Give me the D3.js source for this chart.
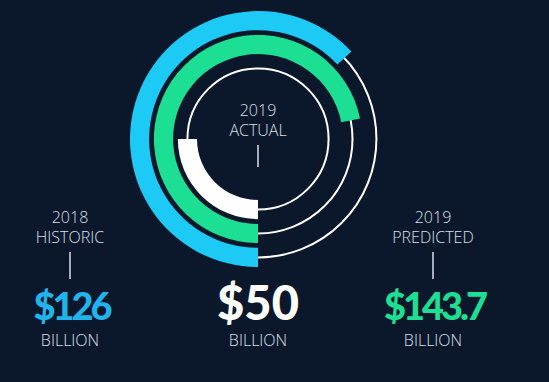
<!DOCTYPE html>
<html>
<head>
<meta charset="utf-8">
<script src="https://cdn.jsdelivr.net/npm/d3@7"></script>
<style>
  body { margin:0; background:#0b172a; }
  svg { display:block; }
  .light { font-family:"Open Sans", sans-serif; font-weight:300; fill:#d8e0ea; }
  .big { font-family:"Lato", sans-serif; font-weight:900; }
</style>
</head>
<body>
<script>
// values in billions
var labels = ["2018 HISTORIC", "2019 ACTUAL", "2019 PREDICTED"];
var values = [126, 50, 143.7];
var amounts = ["$126", "$50", "$143.7"];
var colors = ["#1dc9f5", "#ffffff", "#1ddf93"];
var textColors = ["#21b4ea", "#ffffff", "#1ddf93"];
// ring order from outside in: historic, predicted, actual
var ringOrder = [0, 2, 1];

var width = 549, height = 382;
var cx = 258, cy = 139;

var svg = d3.select("body").append("svg")
  .attr("width", width)
  .attr("height", height);

svg.append("rect").attr("width", width).attr("height", height).attr("fill", "#0b172a");

// full turn = 200 billion, starting from 6 o'clock going clockwise
var angle = d3.scaleLinear().domain([0, 200]).range([Math.PI, 3 * Math.PI]);
var ring = d3.scaleBand().domain(ringOrder).range([128, 61]).paddingInner(0.2);
var bw = ring.bandwidth();

var g = svg.append("g").attr("transform", "translate(" + cx + "," + cy + ")");

// thin track circles
g.selectAll("circle.track")
  .data(ringOrder)
  .enter().append("circle")
  .attr("class", "track")
  .attr("r", function(d){ return ring(d) + bw / 2; })
  .attr("fill", "none")
  .attr("stroke", "#ffffff")
  .attr("stroke-width", 2);

var arc = d3.arc()
  .innerRadius(function(d){ return ring(d); })
  .outerRadius(function(d){ return ring(d) + bw; })
  .startAngle(Math.PI)
  .endAngle(function(d){ return angle(values[d]); });

g.selectAll("path.band")
  .data(ringOrder)
  .enter().append("path")
  .attr("class", "band")
  .attr("d", arc)
  .attr("fill", function(d){ return colors[d]; });

// label positions
var labelX = [70, 258, 433];
var titleY = [223, 116, 223];
var lineLen = [27, 22, 27];

labels.forEach(function(l, i){
  var parts = l.split(" ");
  var t = svg.append("text")
    .attr("class", "light")
    .attr("x", labelX[i])
    .attr("y", titleY[i])
    .attr("text-anchor", "middle")
    .style("font-size", "16px");
  t.append("tspan").attr("x", labelX[i]).text(parts[0]);
  t.append("tspan").attr("x", labelX[i]).attr("dy", 20).text(parts[1]);

  var ly = titleY[i] + 30;
  svg.append("line")
    .attr("x1", labelX[i]).attr("x2", labelX[i])
    .attr("y1", ly - 1).attr("y2", ly - 1 + lineLen[i])
    .attr("stroke", "#d8e0ea")
    .attr("stroke-width", 1.5);

  svg.append("text")
    .attr("class", "big")
    .attr("x", labelX[i] + (i == 1 ? 0 : 1.5))
    .attr("y", 320)
    .attr("text-anchor", "middle")
    .attr("fill", textColors[i])
    .style("letter-spacing", i == 1 ? "0px" : "-3px")
    .style("font-size", i == 1 ? "47px" : "38px")
    .text(amounts[i]);

  svg.append("text")
    .attr("class", "light")
    .attr("x", labelX[i])
    .attr("y", 346)
    .attr("text-anchor", "middle")
    .style("font-size", "16px")
    .text("BILLION");
});
</script>
</body>
</html>
